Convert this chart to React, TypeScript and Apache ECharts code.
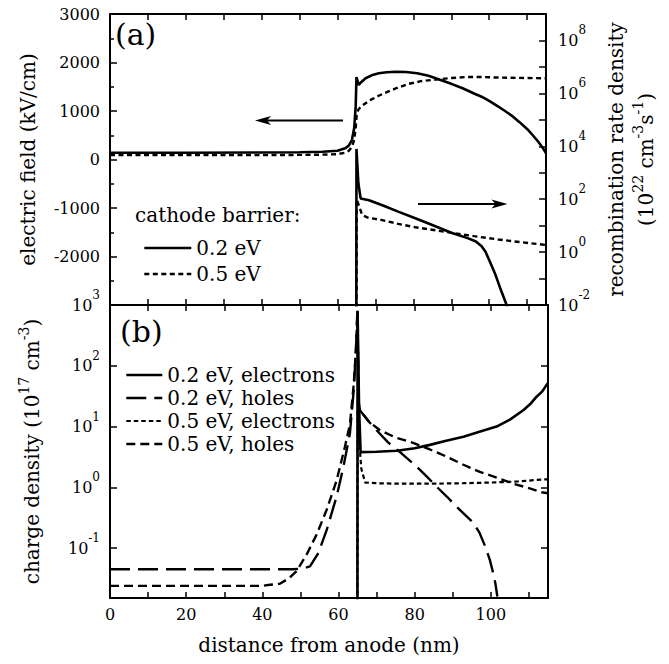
import React, { useEffect, useRef } from 'react';
import * as echarts from 'echarts';

const FONT = 'DejaVu Serif';

// ---------- panel (a): electric field (kV/cm) ----------
const fieldX02 = [0, 20, 40, 50, 56, 60, 62, 63, 63.8, 64.4, 64.8, 65.0, 65.6, 66.3, 67.4, 69, 70.9, 73, 75.3, 78, 81, 84, 87, 90, 93, 96, 98, 100, 102, 104, 106, 108, 110, 111.5, 113, 114.2, 115];
const field02 = [140, 140, 145, 150, 160, 180, 230, 290, 400, 650, 1100, 1700, 1540, 1600, 1675, 1735, 1777, 1800, 1810, 1805, 1780, 1725, 1645, 1560, 1470, 1360, 1295, 1210, 1110, 1010, 900, 770, 630, 500, 360, 230, 130];
const fieldX05 = [0, 20, 40, 50, 56, 60, 62, 63, 63.8, 64.4, 64.8, 65.1, 65.6, 66.5, 67.5, 69, 71, 73, 75.5, 78.8, 82, 86, 90, 94, 98, 102, 106, 110, 115];
const field05 = [90, 90, 90, 95, 100, 110, 140, 180, 260, 400, 650, 960, 1040, 1110, 1165, 1240, 1320, 1390, 1470, 1560, 1615, 1650, 1680, 1700, 1700, 1690, 1685, 1680, 1675];

// ---------- panel (a): recombination rate density (1e22 cm^-3 s^-1) ----------
const rateX02 = [64.95, 65.0, 65.5, 66.1, 68.3, 72, 76, 80.5, 85, 90, 94.5, 96.5, 98, 99, 100, 101.5, 103, 104.6, 105.5];
const rate02 = [1e-5, 7943, 400, 107, 91, 57.5, 33.9, 19.1, 10.5, 5.4, 3.3, 2.5, 1.66, 1.05, 0.5, 0.16, 0.04, 0.01, 0.004];
const rateX05 = [64.95, 65.05, 65.6, 66.5, 68, 71.8, 76, 80.5, 86, 91, 96, 102.4, 108, 115];
const rate05 = [1e-5, 100, 60, 25, 20, 16.2, 11.7, 8.7, 6.6, 5.1, 4.0, 3.0, 2.4, 1.86];

// ---------- panel (b): charge density (1e17 cm^-3) ----------
const elecX02 = [64.95, 65.0, 65.4, 65.8, 70, 75.3, 80, 84, 88, 92.8, 97, 101.5, 105, 108.5, 110.5, 112, 113.5, 114.3, 115];
const elec02 = [1e-3, 800, 20, 3.8, 3.85, 4.0, 4.4, 5.0, 5.8, 6.8, 8.2, 10, 13, 18.6, 24, 31, 38, 45, 52];
const holeX02 = [0, 20, 40, 48, 50.5, 52.5, 54.7, 56.9, 59.5, 61.3, 63, 64, 64.6, 64.95, 65.3, 65.6, 68, 70, 73, 76.6, 80.5, 83, 85.8, 88.5, 91, 93.5, 95.4, 97, 98.5, 99.7, 100.6, 101.2, 101.7];
const hole02 = [0.045, 0.045, 0.045, 0.045, 0.046, 0.05, 0.083, 0.2, 0.71, 2.2, 7.8, 40, 200, 800, 25, 18.6, 12, 8.7, 5.5, 3.6, 2.2, 1.55, 1.02, 0.7, 0.48, 0.34, 0.26, 0.18, 0.107, 0.065, 0.039, 0.026, 0.016];
const elecX05 = [64.95, 65.05, 65.5, 66, 67, 70, 75.3, 85, 92.8, 100, 107, 113.8, 115];
const elec05 = [1e-3, 18, 5, 2, 1.2, 1.17, 1.15, 1.15, 1.17, 1.2, 1.25, 1.35, 1.35];
const holeX05 = [0, 20, 40, 42, 44.6, 47, 49, 51.6, 54.3, 56.9, 59.5, 61.7, 63, 64, 64.6, 64.95, 65.3, 65.6, 68, 70.9, 75, 79.6, 84, 88.4, 92.5, 97.1, 101.5, 105.9, 110, 113.3, 115];
const hole05 = [0.024, 0.024, 0.024, 0.025, 0.026, 0.032, 0.042, 0.078, 0.17, 0.43, 1.3, 4.7, 11, 50, 200, 700, 25, 18.6, 12, 8.7, 6.6, 5.4, 4.2, 3.2, 2.4, 1.8, 1.45, 1.15, 0.97, 0.83, 0.8];

// ---------- ticks ----------
const xLabelValues = [0, 20, 40, 60, 80, 100];
const rateLabelExps = [-2, 0, 2, 4, 6, 8];
const chargeTickExps = [-1, 0, 1, 2, 3];

const pairs = (xs: number[], ys: number[]) => xs.map((x, i) => [x, ys[i]]);
const logPairs = (xs: number[], ys: number[]) => xs.map((x, i) => [x, Math.log10(ys[i])]);

const BLACK = '#000';
const TICK_FS = 16;
const TITLE_FS = 20;
const tickRich = {
  b: { fontSize: TICK_FS, lineHeight: 32, fontFamily: FONT, color: BLACK },
  s: { fontSize: 12, lineHeight: 12, verticalAlign: 'top', fontFamily: FONT, color: BLACK },
};
const nameRich = {
  s: { fontSize: 14, lineHeight: 14, verticalAlign: 'top', fontFamily: FONT, color: BLACK },
};

const axisLine = { show: true, onZero: false, lineStyle: { color: BLACK, width: 2 } };

function xAxisCfg(grid: number, position: 'top' | 'bottom', labels: boolean) {
  return {
    type: 'value',
    gridIndex: grid,
    position,
    min: 0,
    max: 115,
    interval: 10,
    axisLine,
    axisTick: { show: true, inside: true, length: 6, lineStyle: { color: BLACK, width: 1.5 } },
    splitLine: { show: false },
    axisLabel: labels
      ? {
          show: true,
          margin: 8,
          fontSize: TICK_FS,
          fontFamily: FONT,
          color: BLACK,
          formatter: (v: number) => (xLabelValues.indexOf(v) >= 0 ? String(v) : ''),
        }
      : { show: false },
    ...(labels
      ? {
          name: 'distance from anode (nm)',
          nameLocation: 'middle',
          nameGap: 32,
          nameTextStyle: { fontSize: TITLE_FS, lineHeight: 30, fontFamily: FONT, color: BLACK },
        }
      : {}),
  };
}

const lineSeries = (name: string, xi: number, yi: number, data: number[][], width: number, dash: any) => ({
  name,
  type: 'line',
  xAxisIndex: xi,
  yAxisIndex: yi,
  data,
  symbol: 'none',
  clip: true,
  silent: true,
  lineStyle: { color: BLACK, width, type: dash },
  z: 3,
});

const DASH_A = [5, 3.5];
const DASH_SHORT = [4.5, 3];
const DASH_MED = [9, 5];
const DASH_LONG = [20, 8];

function buildOption() {
  return {
    animation: false,
    backgroundColor: '#fff',
    textStyle: { fontFamily: FONT },
    grid: [
      { left: 110, top: 14, width: 438, height: 291 },
      { left: 110, top: 305, width: 438, height: 293 },
    ],
    xAxis: [xAxisCfg(0, 'bottom', false), xAxisCfg(0, 'top', false), xAxisCfg(1, 'bottom', true), xAxisCfg(1, 'top', false)],
    yAxis: [
      {
        type: 'value',
        gridIndex: 0,
        position: 'left',
        min: -3000,
        max: 3000,
        interval: 1000,
        axisLine,
        axisTick: { inside: true, length: 7, lineStyle: { color: BLACK, width: 1.5 } },
        minorTick: { show: true, splitNumber: 2, length: 4, lineStyle: { color: BLACK, width: 1.5 } },
        splitLine: { show: false },
        axisLabel: {
          margin: 10,
          fontSize: TICK_FS,
          fontFamily: FONT,
          color: BLACK,
          formatter: (v: number) => (v === -3000 ? '' : String(v)),
        },
        name: 'electric field (kV/cm)',
        nameLocation: 'middle',
        nameGap: 67,
        nameTextStyle: { fontSize: TITLE_FS, lineHeight: 30, fontFamily: FONT, color: BLACK },
      },
      {
        type: 'value',
        gridIndex: 0,
        position: 'right',
        min: -2,
        max: 9,
        interval: 1,
        axisLine,
        axisTick: { inside: true, length: 7, lineStyle: { color: BLACK, width: 1.5 } },
        splitLine: { show: false },
        axisLabel: {
          margin: 12,
          fontSize: TICK_FS,
          fontFamily: FONT,
          color: BLACK,
          rich: tickRich,
          formatter: (v: number) => (rateLabelExps.indexOf(v) >= 0 ? `{b|10}{s|${v}}` : ''),
        },
        name: '{n|recombination rate density}\n{n|(10}{s|22}{n| cm}{s|-3}{n|s}{s|-1}{n|)}',
        nameLocation: 'middle',
        nameGap: 45,
        nameTextStyle: {
          fontSize: TITLE_FS,
          lineHeight: 30,
          fontFamily: FONT,
          color: BLACK,
          rich: { ...nameRich, n: { fontSize: TITLE_FS, lineHeight: 30, fontFamily: FONT, color: BLACK } },
        },
      },
      {
        type: 'value',
        gridIndex: 1,
        position: 'left',
        min: -1.82,
        max: 3,
        axisLine,
        axisTick: { inside: true, length: 7, customValues: chargeTickExps, lineStyle: { color: BLACK, width: 1.5 } },
        splitLine: { show: false },
        axisLabel: {
          margin: 10,
          fontSize: TICK_FS,
          fontFamily: FONT,
          color: BLACK,
          rich: tickRich,
          customValues: chargeTickExps,
          formatter: (v: number) => `{b|10}{s|${Math.round(v)}}`,
        },
        name: 'charge density (10{s|17} cm{s|-3})',
        nameLocation: 'middle',
        nameGap: 63,
        nameTextStyle: { fontSize: TITLE_FS, lineHeight: 30, fontFamily: FONT, color: BLACK, rich: nameRich },
      },
      {
        type: 'value',
        gridIndex: 1,
        position: 'right',
        min: -1.82,
        max: 3,
        axisLine,
        axisTick: { inside: true, length: 7, customValues: chargeTickExps, lineStyle: { color: BLACK, width: 1.5 } },
        splitLine: { show: false },
        axisLabel: { show: false },
      },
    ],
    legend: [
      {
        orient: 'vertical',
        left: 138,
        top: 230,
        itemWidth: 47,
        itemHeight: 14,
        itemGap: 0,
        selectedMode: false,
        itemStyle: { opacity: 0 },
        textStyle: { fontSize: TITLE_FS, lineHeight: 26, fontFamily: FONT, color: BLACK },
        data: [
          { name: '0.2 eV', lineStyle: { color: BLACK, width: 2.6, type: 'solid' } },
          { name: '0.5 eV', lineStyle: { color: BLACK, width: 2.4, type: DASH_A } },
        ],
      },
      {
        orient: 'vertical',
        left: 120,
        top: 358.5,
        itemWidth: 36,
        itemHeight: 14,
        itemGap: 0,
        selectedMode: false,
        itemStyle: { opacity: 0 },
        textStyle: { fontSize: TITLE_FS, lineHeight: 23, fontFamily: FONT, color: BLACK },
        data: [
          { name: '0.2 eV, electrons', lineStyle: { color: BLACK, width: 2.6, type: 'solid' } },
          { name: '0.2 eV, holes', lineStyle: { color: BLACK, width: 2.4, type: DASH_LONG } },
          { name: '0.5 eV, electrons', lineStyle: { color: BLACK, width: 2.2, type: DASH_SHORT } },
          { name: '0.5 eV, holes', lineStyle: { color: BLACK, width: 2.4, type: DASH_MED } },
        ],
      },
    ],
    series: [
      lineSeries('0.2 eV', 0, 0, pairs(fieldX02, field02), 2.6, 'solid'),
      lineSeries('0.5 eV', 0, 0, pairs(fieldX05, field05), 2.4, DASH_A),
      lineSeries('0.2 eV', 0, 1, logPairs(rateX02, rate02), 2.6, 'solid'),
      lineSeries('0.5 eV', 0, 1, logPairs(rateX05, rate05), 2.4, DASH_A),
      lineSeries('0.2 eV, electrons', 2, 2, logPairs(elecX02, elec02), 2.6, 'solid'),
      lineSeries('0.2 eV, holes', 2, 2, logPairs(holeX02, hole02), 2.4, DASH_LONG),
      lineSeries('0.5 eV, electrons', 2, 2, logPairs(elecX05, elec05), 2.2, DASH_SHORT),
      lineSeries('0.5 eV, holes', 2, 2, logPairs(holeX05, hole05), 2.4, DASH_MED),
    ],
    graphic: [
      { type: 'text', x: 115, y: 34, style: { text: '(a)', fontSize: 30, fontFamily: FONT, fill: BLACK, verticalAlign: 'middle' } },
      { type: 'text', x: 120, y: 331, style: { text: '(b)', fontSize: 30, fontFamily: FONT, fill: BLACK, verticalAlign: 'middle' } },
      { type: 'text', x: 135, y: 215, style: { text: 'cathode barrier:', fontSize: TITLE_FS, fontFamily: FONT, fill: BLACK, verticalAlign: 'middle' } },
      { type: 'line', shape: { x1: 343, y1: 120.5, x2: 265, y2: 120.5 }, style: { stroke: BLACK, lineWidth: 2 } },
      { type: 'polygon', shape: { points: [[255, 120.5], [271, 116], [267, 120.5], [271, 125]] }, style: { fill: BLACK } },
      { type: 'line', shape: { x1: 418, y1: 204, x2: 497, y2: 204 }, style: { stroke: BLACK, lineWidth: 2 } },
      { type: 'polygon', shape: { points: [[507.5, 204], [491.5, 199.5], [495.5, 204], [491.5, 208.5]] }, style: { fill: BLACK } },
    ],
  };
}

export default function App() {
  const ref = useRef<HTMLDivElement>(null);
  useEffect(() => {
    if (!ref.current) return;
    const chart = echarts.init(ref.current, null, { renderer: 'svg' });
    chart.setOption(buildOption() as any);
    return () => chart.dispose();
  }, []);
  return (
    <div
      ref={ref}
      style={{ position: 'fixed', left: 0, top: 0, width: 669, height: 664, background: '#fff' }}
    />
  );
}
